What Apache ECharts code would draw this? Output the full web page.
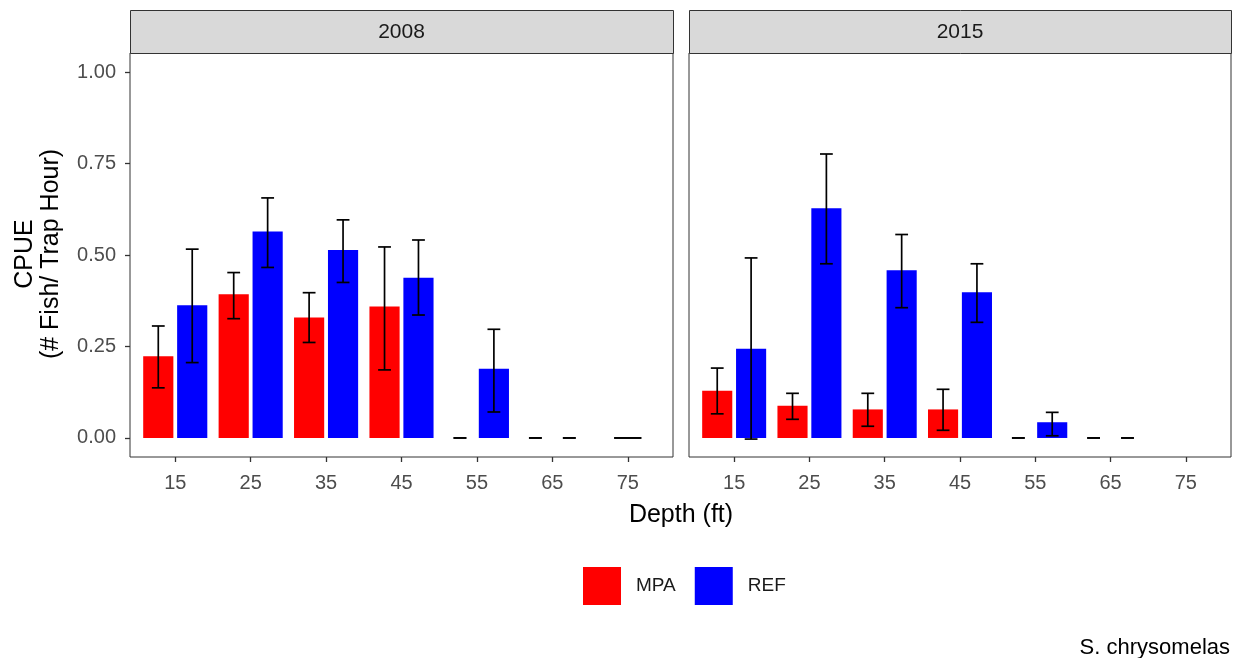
<!DOCTYPE html>
<html>
<head>
<meta charset="utf-8">
<script src="https://cdn.jsdelivr.net/npm/echarts@6/dist/echarts.min.js"></script>
<style>
html,body{margin:0;padding:0;background:#fff;}
#chart{width:1235px;height:658px;}
</style>
</head>
<body>
<div id="chart"></div>
<script>
const depths = ['15','25','35','45','55','65','75'];
const panels = ['2008','2015'];
const yTicks = [0, 0.25, 0.5, 0.75, 1.0];

// 2008
const mpa2008   = [0.223, 0.393, 0.329, 0.359, 0, 0, 0];
const mpa2008Lo = [0.137, 0.326, 0.261, 0.186, 0, 0, 0];
const mpa2008Hi = [0.306, 0.452, 0.397, 0.522, 0, 0, 0];
const ref2008   = [0.363, 0.564, 0.514, 0.438, 0.189, 0, null];
const ref2008Lo = [0.206, 0.466, 0.425, 0.336, 0.071, 0, null];
const ref2008Hi = [0.516, 0.656, 0.596, 0.541, 0.297, 0, null];
// 2015
const mpa2015   = [0.129, 0.088, 0.078, 0.078, 0, 0, null];
const mpa2015Lo = [0.066, 0.051, 0.032, 0.021, 0, 0, null];
const mpa2015Hi = [0.191, 0.122, 0.122, 0.133, 0, 0, null];
const ref2015   = [0.244, 0.628, 0.458, 0.398, 0.043, 0, null];
const ref2015Lo = [-0.003, 0.476, 0.356, 0.316, 0.006, 0, null];
const ref2015Hi = [0.492, 0.776, 0.556, 0.476, 0.070, 0, null];

const groups = ['MPA', 'REF'];
const colors = {MPA: '#FF0000', REF: '#0000FF'};
const panelData = [
  {MPA: [mpa2008, mpa2008Lo, mpa2008Hi], REF: [ref2008, ref2008Lo, ref2008Hi]},
  {MPA: [mpa2015, mpa2015Lo, mpa2015Hi], REF: [ref2015, ref2015Lo, ref2015Hi]}
];

const FONT = 'Liberation Sans, Arial, sans-serif';

// dodge layout
function build(p) {
  const d = panelData[p];
  const bars = {MPA: [], REF: []};
  const errs = [];
  depths.forEach((_, i) => {
    const present = groups.filter(g => d[g][0][i] !== null);
    present.forEach((g, k) => {
      let off = 0, hw = 0.4, cap = 0.18;
      if (present.length === 2) { off = k === 0 ? -0.225 : 0.225; hw = 0.2; cap = 0.085; }
      bars[g].push([i + off, d[g][0][i], hw]);
      errs.push([i + off, d[g][1][i], d[g][2][i], cap]);
    });
  });
  return {bars, errs};
}

function renderBar(params, api) {
  const x = api.value(0), v = api.value(1), hw = api.value(2);
  const p1 = api.coord([x - hw, v]);
  const p2 = api.coord([x + hw, 0]);
  const h = p2[1] - p1[1];
  if (Math.abs(h) < 0.01) return null;
  return {type: 'rect', shape: {x: p1[0], y: p1[1], width: p2[0] - p1[0], height: h},
          style: {fill: api.visual('color')}};
}
function renderErr(params, api) {
  const x = api.value(0), lo = api.value(1), hi = api.value(2), c = api.value(3);
  const top = api.coord([x, hi]), bot = api.coord([x, lo]);
  const l = api.coord([x - c, hi]), r = api.coord([x + c, hi]);
  const lb = api.coord([x - c, lo]), rb = api.coord([x + c, lo]);
  const st = {stroke: '#000', lineWidth: 1.7};
  return {type: 'group', children: [
    {type: 'line', shape: {x1: top[0], y1: top[1], x2: bot[0], y2: bot[1]}, style: st},
    {type: 'line', shape: {x1: l[0], y1: l[1], x2: r[0], y2: r[1]}, style: st},
    {type: 'line', shape: {x1: lb[0], y1: lb[1], x2: rb[0], y2: rb[1]}, style: st}
  ]};
}

const gridPos = [{left: 130, top: 53, width: 543, height: 404}, {left: 689, top: 53, width: 542, height: 404}];
const grids = gridPos.map(g => Object.assign({}, g, {show: true, borderColor: '#333333', borderWidth: 1, backgroundColor: '#fff', containLabel: false}));

const xAxes = panels.map((_, p) => ({
  type: 'value', gridIndex: p, min: -0.6, max: 6.6, position: 'bottom',
  axisLine: {show: false, onZero: false}, splitLine: {show: false},
  axisTick: {show: true, length: 5, lineStyle: {color: '#333333', width: 1.3}, customValues: depths.map((_, i) => i)},
  axisLabel: {show: true, margin: 16, color: '#4D4D4D', fontSize: 20, fontFamily: FONT,
              customValues: depths.map((_, i) => i), formatter: v => depths[Math.round(v)]}
}));
const yAxes = panels.map((_, p) => ({
  type: 'value', gridIndex: p, min: -0.052, max: 1.052, position: 'left',
  axisLine: {show: false, onZero: false}, splitLine: {show: false},
  axisTick: {show: p === 0, length: 5, lineStyle: {color: '#333333', width: 1.3}, customValues: yTicks},
  axisLabel: {show: p === 0, margin: 14, color: '#4D4D4D', fontSize: 20, fontFamily: FONT,
              customValues: yTicks, formatter: v => v.toFixed(2)}
}));

const series = [];
panels.forEach((_, p) => {
  const b = build(p);
  groups.forEach(g => {
    series.push({type: 'custom', name: g, xAxisIndex: p, yAxisIndex: p, z: 2,
      itemStyle: {color: colors[g]}, renderItem: renderBar, data: b.bars[g], clip: false});
  });
  series.push({type: 'custom', name: 'err' + p, xAxisIndex: p, yAxisIndex: p, z: 3,
    renderItem: renderErr, data: b.errs, clip: false});
});

const g = [];
gridPos.forEach((gp, p) => {
  g.push({type: 'rect', left: gp.left, top: 10, shape: {width: gp.width, height: 43},
    style: {fill: '#D9D9D9', stroke: '#333333', lineWidth: 1}, z: 10});
  g.push({type: 'text', x: gp.left + gp.width / 2, y: 32, z: 11,
    style: {text: panels[p], fill: '#1A1A1A', font: '21px ' + FONT, textAlign: 'center', textVerticalAlign: 'middle'}});
});
g.push({type: 'text', x: 38, y: 254, rotation: Math.PI / 2, z: 11,
  style: {text: 'CPUE\n(# Fish/ Trap Hour)', fill: '#000', font: '25px ' + FONT, textAlign: 'center', textVerticalAlign: 'middle', lineHeight: 26}});
g.push({type: 'text', x: 681, y: 515, z: 11,
  style: {text: 'Depth (ft)', fill: '#000', font: '25px ' + FONT, textAlign: 'center', textVerticalAlign: 'middle'}});
g.push({type: 'text', x: 1230, y: 648, z: 11,
  style: {text: 'S. chrysomelas', fill: '#000', font: '22px ' + FONT, textAlign: 'right', textVerticalAlign: 'middle'}});

const chart = echarts.init(document.getElementById('chart'), null, {renderer: 'canvas'});
chart.setOption({
  animation: false,
  backgroundColor: '#fff',
  grid: grids,
  xAxis: xAxes,
  yAxis: yAxes,
  legend: {data: groups, left: 583, top: 567, padding: 0, icon: 'rect', itemWidth: 38, itemHeight: 38, itemGap: 19,
    textStyle: {color: '#1A1A1A', fontSize: 19, fontFamily: FONT, padding: [6, 0, 0, 10]}},
  series: series,
  graphic: g
});
</script>
</body>
</html>
